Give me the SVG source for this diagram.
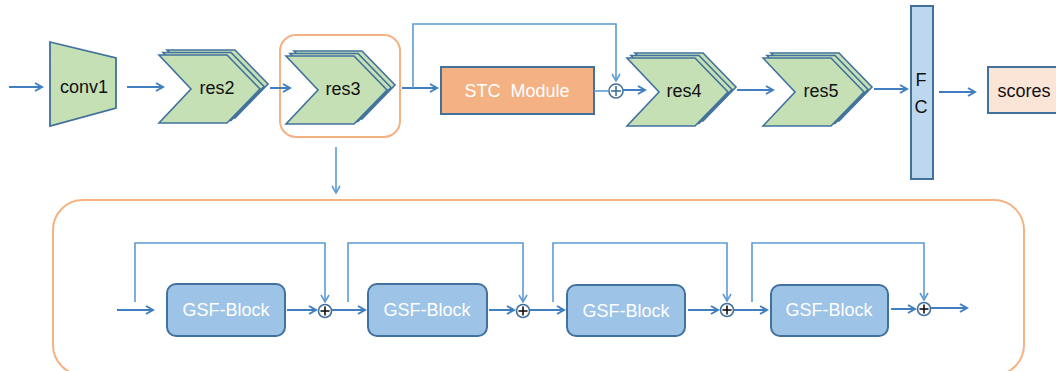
<svg xmlns="http://www.w3.org/2000/svg" xmlns:xlink="http://www.w3.org/1999/xlink" width="1056" height="371" viewBox="0 0 1056 371">
<style>
.ln{fill:none;stroke:#3f7fc0;stroke-width:2}
.sk{fill:none;stroke:#5b9bd5;stroke-width:1.6}
.chev{fill:#c5e0b4;stroke:#41719c;stroke-width:1.6;stroke-linejoin:miter}
.t{font-family:"Liberation Sans",Arial,sans-serif;font-size:18px;fill:#111;text-anchor:middle;dominant-baseline:central}
.tw{font-family:"Liberation Sans",Arial,sans-serif;font-size:18px;fill:#fff;text-anchor:middle;dominant-baseline:central}
.gsf{fill:#9dc3e6;stroke:#41719c;stroke-width:2}
.plus{fill:#fff;stroke:#41719c;stroke-width:1.6}
.pb{stroke:#111;stroke-width:1.6}
.pu{stroke:#41719c;stroke-width:1.6}
</style>
<defs>
<marker id="ah" markerWidth="10" markerHeight="10" refX="8" refY="5" orient="auto" markerUnits="userSpaceOnUse">
<path d="M1,1 L8,5 L1,9" fill="none" stroke="#3f7fc0" stroke-width="2"/>
</marker>
<marker id="ah2" markerWidth="10" markerHeight="10" refX="8" refY="5" orient="auto" markerUnits="userSpaceOnUse">
<path d="M1,1 L8,5 L1,9" fill="none" stroke="#5b9bd5" stroke-width="1.6"/>
</marker>
<path id="chev" d="M0,0 L68,0 L101,34 L68,68 L0,68 L32,34 Z"/>
<g id="stack">
<use xlink:href="#chev" href="#chev" class="chev" transform="translate(8,-5)"/>
<use xlink:href="#chev" href="#chev" class="chev" transform="translate(4,-2.5)"/>
<use xlink:href="#chev" href="#chev" class="chev"/>
</g>
</defs>

<g id="res3-frame">
<rect x="280" y="35" width="120" height="102" rx="16" fill="none" stroke="#f4b183" stroke-width="2"/>
</g>
<g id="gsf-frame">
<rect x="53" y="200" width="971" height="175" rx="30" fill="none" stroke="#f4b183" stroke-width="2"/>
</g>

<g id="conv1">
<path d="M50,42 L116,58 L116,108 L50,126 Z" fill="#c5e0b4" stroke="#41719c" stroke-width="1.8"/>
<text class="t" x="84" y="87">conv1</text>
</g>
<g id="res2">
<use xlink:href="#stack" href="#stack" transform="translate(159,55)"/>
<text class="t" x="217" y="88">res2</text>
</g>
<g id="res3">
<use xlink:href="#stack" href="#stack" transform="translate(286,56)"/>
<text class="t" x="343" y="89">res3</text>
</g>
<g id="stc">
<rect x="441" y="67" width="153" height="47" fill="#f4b183" stroke="#41719c" stroke-width="2"/>
<text class="tw" x="517" y="91" xml:space="preserve">STC  Module</text>
</g>
<g id="res4">
<use xlink:href="#stack" href="#stack" transform="translate(627,58)"/>
<text class="t" x="684" y="91">res4</text>
</g>
<g id="res5">
<use xlink:href="#stack" href="#stack" transform="translate(763,58)"/>
<text class="t" x="821" y="91">res5</text>
</g>
<g id="fc">
<rect x="911" y="6" width="22" height="173" fill="#bdd7ee" stroke="#41719c" stroke-width="2"/>
<text class="t" x="921" y="80">F</text>
<text class="t" x="921" y="107">C</text>
</g>
<g id="scores">
<rect x="988" y="67" width="80" height="46" fill="#fbe5d6" stroke="#41719c" stroke-width="2"/>
<text class="t" x="1024" y="91">scores</text>
</g>

<g id="gsf1"><rect class="gsf" x="167" y="284" width="118" height="52" rx="9"/><text class="tw" x="226" y="310">GSF-Block</text></g>
<g id="gsf2"><rect class="gsf" x="368" y="284" width="119" height="52" rx="9"/><text class="tw" x="427" y="310">GSF-Block</text></g>
<g id="gsf3"><rect class="gsf" x="567" y="285" width="118" height="51" rx="9"/><text class="tw" x="626" y="311">GSF-Block</text></g>
<g id="gsf4"><rect class="gsf" x="771" y="285" width="117" height="51" rx="9"/><text class="tw" x="829" y="310">GSF-Block</text></g>

<g id="sum-top">
<circle class="plus" cx="616" cy="91" r="7"/>
<line class="pu" x1="611" y1="91" x2="621" y2="91"/><line class="pu" x1="616" y1="86" x2="616" y2="96"/>
</g>
<g id="sum1"><circle class="plus" cx="325" cy="311" r="6.5"/><line class="pb" x1="320.5" y1="311" x2="329.5" y2="311"/><line class="pb" x1="325" y1="306.5" x2="325" y2="315.5"/></g>
<g id="sum2"><circle class="plus" cx="523" cy="311" r="6.5"/><line class="pb" x1="518.5" y1="311" x2="527.5" y2="311"/><line class="pb" x1="523" y1="306.5" x2="523" y2="315.5"/></g>
<g id="sum3"><circle class="plus" cx="727" cy="310" r="6.5"/><line class="pb" x1="722.5" y1="310" x2="731.5" y2="310"/><line class="pb" x1="727" y1="305.5" x2="727" y2="314.5"/></g>
<g id="sum4"><circle class="plus" cx="924" cy="309" r="6.5"/><line class="pb" x1="919.5" y1="309" x2="928.5" y2="309"/><line class="pb" x1="924" y1="304.5" x2="924" y2="313.5"/></g>

<g id="connectors">
<line class="ln" x1="9" y1="87" x2="42" y2="87" marker-end="url(#ah)"/>
<line class="ln" x1="127" y1="87" x2="163" y2="87" marker-end="url(#ah)"/>
<line class="ln" x1="270" y1="88" x2="290" y2="88" marker-end="url(#ah)"/>
<line class="ln" x1="402" y1="88" x2="437" y2="88" marker-end="url(#ah)"/>
<polyline class="sk" points="413,88 413,24 616,24 616,81" marker-end="url(#ah2)"/>
<line class="sk" x1="594" y1="91" x2="609" y2="91"/>
<line class="ln" x1="623" y1="90" x2="645" y2="90" marker-end="url(#ah)"/>
<line class="ln" x1="737" y1="90" x2="773" y2="90" marker-end="url(#ah)"/>
<line class="ln" x1="874" y1="89" x2="907" y2="89" marker-end="url(#ah)"/>
<line class="ln" x1="939" y1="92" x2="975" y2="92" marker-end="url(#ah)"/>
<line class="sk" x1="336" y1="147" x2="336" y2="193" marker-end="url(#ah2)"/>

<line class="ln" x1="117" y1="310" x2="153" y2="310" marker-end="url(#ah)"/>
<polyline class="sk" points="135,302 135,243 325,243 325,302" marker-end="url(#ah2)"/>
<line class="ln" x1="287" y1="310" x2="316" y2="310" marker-end="url(#ah)"/>
<line class="ln" x1="332" y1="310" x2="365" y2="310" marker-end="url(#ah)"/>
<polyline class="sk" points="348,302 348,243 523,243 523,302" marker-end="url(#ah2)"/>
<line class="ln" x1="489" y1="310" x2="514" y2="310" marker-end="url(#ah)"/>
<line class="ln" x1="530" y1="310" x2="564" y2="310" marker-end="url(#ah)"/>
<polyline class="sk" points="553,302 553,243 727,243 727,301" marker-end="url(#ah2)"/>
<line class="ln" x1="688" y1="310" x2="718" y2="310" marker-end="url(#ah)"/>
<line class="ln" x1="734" y1="310" x2="767" y2="310" marker-end="url(#ah)"/>
<polyline class="sk" points="752,302 752,243 924,243 924,300" marker-end="url(#ah2)"/>
<line class="ln" x1="891" y1="309" x2="915" y2="309" marker-end="url(#ah)"/>
<line class="ln" x1="931" y1="308" x2="967" y2="308" marker-end="url(#ah)"/>
</g>
</svg>
